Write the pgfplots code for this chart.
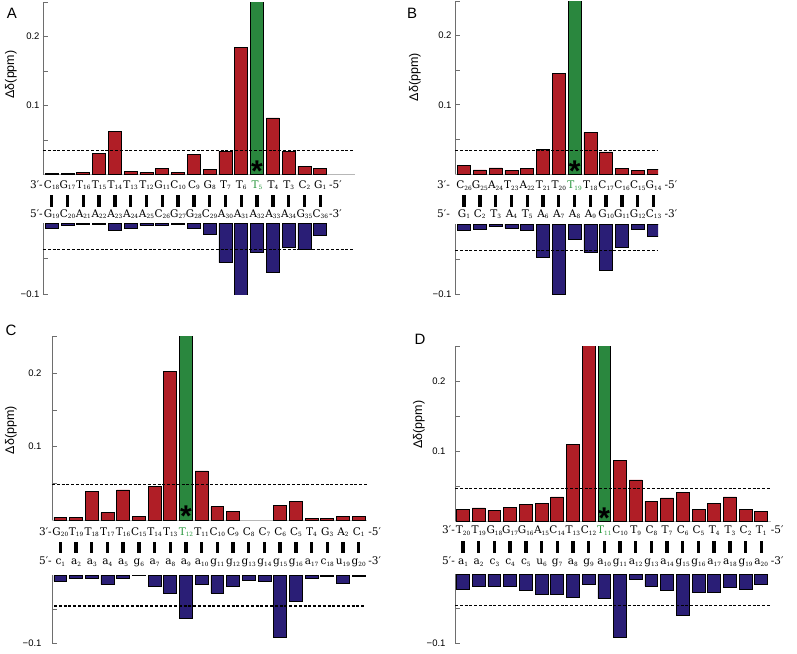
\documentclass[border=0pt]{standalone}
\usepackage{fontspec}
\setmainfont{Liberation Sans}
\newfontfamily\seqfont{DejaVu Serif}
\usepackage{pgfplots}
\pgfplotsset{compat=1.18}

\definecolor{barred}{RGB}{176,30,38}
\definecolor{bargreen}{RGB}{42,135,62}
\definecolor{barblue}{RGB}{42,30,118}
\definecolor{axgray}{RGB}{110,110,110}
\definecolor{labgreen}{RGB}{40,150,60}

% nucleotide with subscript index
\newcommand\nt[2]{#1{\fontsize{5.8}{6}\selectfont\raisebox{-1.8pt}{#2}}}
\newcommand\gn[2]{{\color{labgreen}#1{\fontsize{5.8}{6}\selectfont\raisebox{-1.8pt}{#2}}}}
% base-pair ticks between the strands
\newcommand\pairs[3]{\pgfplotsinvokeforeach{1,...,#1}{\fill ([xshift=-1.7pt,yshift=#2]axis cs:##1,0) rectangle ([xshift=1.7pt,yshift=#3]axis cs:##1,0);}}

\tikzset{seq/.style={font=\seqfont\fontsize{10.5}{12}\selectfont, inner sep=0pt},
  star/.style={font=\bfseries\fontsize{30}{30}\selectfont, inner sep=0pt, anchor=north},
  plab/.style={font=\fontsize{15}{15}\selectfont}}
% asterisk whose box is just the visible star
\newcommand\st{\raisebox{-12.6pt}[8.8pt][0pt]{*}}

\pgfplotsset{
  base/.style={scale only axis, clip mode=individual, axis y line*=left,
    y axis line style={axgray, line width=0.8pt}, ytick style={axgray, line width=0.8pt},
    tick align=inside, major tick length=5pt, xtick style={draw=none},
    yticklabel style={font=\fontsize{9.5}{10}\selectfont},
    xticklabel style={font=\seqfont\fontsize{10.5}{12}\selectfont, anchor=base, inner sep=0pt}},
  bars/.style={ybar, bar shift=0pt, bar width=0.82, draw=black, line width=0.7pt},
  thr/.style={black, dash pattern=on 3pt off 1.8pt, line width=1.3pt, mark=none},
  upper/.style={base, ymin=0, ymax=0.25, axis x line*=bottom,
    x axis line style={axgray!50, line width=0.6pt},
    ytick={0.05,0.1,0.15,0.2,0.25}, yticklabels={,0.1,,0.2,},
    xticklabel style={yshift=-#1},
    ylabel={Δδ(ppm)}, ylabel style={font=\fontsize{12.5}{13}\selectfont, anchor=center}},
  lower/.style={base, ymin=-0.1, ymax=0, axis x line*=top, x axis line style={draw=none},
    ytick={-0.1,-0.05}, yticklabels={−0.1,},
    xticklabel style={yshift=#1}},
}

\begin{document}
\begin{tikzpicture}
\path[use as bounding box] (0,0) rectangle (797pt,-653pt);

% ---------------- A ----------------
\node[plab] at (12pt,-13pt) {A};
\begin{axis}[upper=13.5pt, at={(43pt,-174.5pt)}, anchor=south west, width=312pt, height=172.5pt,
  ylabel style={at={([xshift=-32pt]axis description cs:0,0.58)}},
  xmin=0.45, xmax=20.2, xtick={1,...,18},
  xticklabels={\nt C{18},\nt G{17},\nt T{16},\nt T{15},\nt T{14},\nt T{13},\nt T{12},\nt G{11},\nt C{10},
    \nt C{9},\nt G{8},\nt T{7},\nt T{6},\gn T{5},\nt T{4},\nt T{3},\nt C{2},\nt G{1}}]
\addplot[bars, fill=barred] coordinates {(1,0.0015) (2,0.0015) (3,0.003) (4,0.030) (5,0.063) (6,0.005)
  (7,0.003) (8,0.009) (9,0.003) (10,0.029) (11,0.0075) (12,0.034) (13,0.184) (15,0.082) (16,0.034)
  (17,0.012) (18,0.0085)};
\addplot[bars, fill=bargreen] coordinates {(14,0.3)};
\addplot[thr] coordinates {(0.45,0.035) (20.2,0.035)};
\node[star] at (axis cs:14,0.021) {\st};
\node[seq, anchor=base east] at ([yshift=-13.5pt]axis cs:0.45,0) {3′-};
\node[seq, anchor=base west] at ([yshift=-13.5pt]axis cs:18.55,0) {-5′};
\end{axis}
\begin{axis}[lower=6.3pt, at={(43pt,-294.3pt)}, anchor=south west, width=312pt, height=71pt,
  xmin=0.45, xmax=20.2, xtick={1,...,18},
  xticklabels={\nt G{19},\nt C{20},\nt A{21},\nt A{22},\nt A{23},\nt A{24},\nt A{25},\nt C{26},\nt G{27},
    \nt G{28},\nt C{29},\nt A{30},\nt A{31},\nt A{32},\nt A{33},\nt A{34},\nt G{35},\nt C{36}}]
\addplot[bars, fill=barblue] coordinates {(1,-0.007) (2,-0.0025) (3,-0.001) (4,-0.001) (5,-0.0095)
  (6,-0.007) (7,-0.0025) (8,-0.003) (9,-0.0015) (10,-0.007) (11,-0.0155) (12,-0.0555) (13,-0.101)
  (14,-0.041) (15,-0.0686) (16,-0.034) (17,-0.036) (18,-0.017)};
\addplot[thr] coordinates {(0.45,-0.037) (20.2,-0.037)};
\pairs{18}{16.3pt}{28.3pt}
\node[seq, anchor=base east] at ([yshift=6.3pt]axis cs:0.45,0) {5′-};
\node[seq, anchor=base west] at ([yshift=6.3pt]axis cs:18.55,0) {-3′};
\end{axis}

% ---------------- B ----------------
\node[plab] at (412pt,-13pt) {B};
\begin{axis}[upper=14.3pt, at={(455pt,-174pt)}, anchor=south west, width=203pt, height=173pt,
  ylabel style={at={([xshift=-40pt]axis description cs:0,0.56)}},
  xmin=0.43, xmax=13.28, xtick={1,...,13},
  xticklabels={\nt C{26},\nt G{25},\nt A{24},\nt T{23},\nt A{22},\nt T{21},\nt T{20},\gn T{19},
    \nt T{18},\nt C{17},\nt C{16},\nt C{15},\nt G{14}}]
\addplot[bars, fill=barred] coordinates {(1,0.0126) (2,0.006) (3,0.0087) (4,0.0048) (5,0.0077)
  (6,0.036) (7,0.145) (9,0.060) (10,0.032) (11,0.0077) (12,0.0053) (13,0.0068)};
\addplot[bars, fill=bargreen] coordinates {(8,0.3)};
\addplot[thr] coordinates {(0.43,0.034) (13.28,0.034)};
\node[star] at (axis cs:8,0.021) {\st};
\node[seq, anchor=base east] at ([xshift=-5pt,yshift=-14.3pt]axis cs:0.43,0) {3′-};
\node[seq, anchor=base west] at ([xshift=3pt,yshift=-14.3pt]axis cs:13.5,0) {-5′};
\end{axis}
\begin{axis}[lower=7pt, at={(455pt,-294pt)}, anchor=south west, width=203pt, height=70pt,
  xmin=0.43, xmax=13.28, xtick={1,...,13},
  xticklabels={\nt G{1},\nt C{2},\nt T{3},\nt A{4},\nt T{5},\nt A{6},\nt A{7},\nt A{8},\nt A{9},
    \nt G{10},\nt G{11},\nt G{12},\nt C{13}}]
\addplot[bars, fill=barblue] coordinates {(1,-0.009) (2,-0.007) (3,-0.003) (4,-0.006) (5,-0.009)
  (6,-0.048) (7,-0.100) (8,-0.022) (9,-0.040) (10,-0.0657) (11,-0.0334) (12,-0.0076) (13,-0.017)};
\addplot[thr] coordinates {(0.43,-0.038) (13.28,-0.038)};
\pairs{13}{17.3pt}{29pt}
\node[seq, anchor=base east] at ([xshift=-5pt,yshift=7pt]axis cs:0.43,0) {5′-};
\node[seq, anchor=base west] at ([xshift=3pt,yshift=7pt]axis cs:13.5,0) {-3′};
\end{axis}

% ---------------- C ----------------
\node[plab] at (11pt,-330pt) {C};
\begin{axis}[upper=15pt, at={(52pt,-520pt)}, anchor=south west, width=315pt, height=183.5pt,
  ylabel style={at={([xshift=-41pt]axis description cs:0,0.49)}},
  yticklabel style={xshift=-7pt},
  xmin=0.47, xmax=20.53, xtick={1,...,20},
  xticklabels={\nt G{20},\nt T{19},\nt T{18},\nt T{17},\nt T{16},\nt C{15},\nt T{14},\nt T{13},\gn T{12},
    \nt T{11},\nt C{10},\nt C{9},\nt C{8},\nt C{7},\nt C{6},\nt C{5},\nt T{4},\nt G{3},\nt A{2},\nt C{1}}]
\addplot[bars, fill=barred] coordinates {(1,0.0037) (2,0.0037) (3,0.039) (4,0.010) (5,0.041) (6,0.0045)
  (7,0.046) (8,0.203) (10,0.0668) (11,0.018) (12,0.012) (15,0.020) (16,0.0255) (17,0.0023)
  (18,0.0018) (19,0.0045) (20,0.0045)};
\addplot[bars, fill=bargreen] coordinates {(9,0.3)};
\addplot[thr] coordinates {(0.47,0.048) (20.53,0.048)};
\node[star] at (axis cs:9,0.020) {\st};
\node[seq, anchor=base east] at ([yshift=-15pt]axis cs:0.47,0) {3′-};
\node[seq, anchor=base west] at ([yshift=-15pt]axis cs:20.6,0) {-5′};
\end{axis}
\begin{axis}[lower=11pt, at={(52pt,-643.3pt)}, anchor=south west, width=315pt, height=68pt,
  yticklabel style={xshift=-7pt},
  xmin=0.47, xmax=20.53, xtick={1,...,20},
  xticklabels={\nt c{1},\nt a{2},\nt a{3},\nt a{4},\nt a{5},\nt g{6},\nt a{7},\nt a{8},\nt a{9},\nt a{10},
    \nt g{11},\nt g{12},\nt g{13},\nt g{14},\nt g{15},\nt g{16},\nt a{17},\nt c{18},\nt u{19},\nt g{20}}]
\addplot[bars, fill=barblue] coordinates {(1,-0.0088) (2,-0.005) (3,-0.005) (4,-0.0132) (5,-0.004)
  (6,-0.0005) (7,-0.0157) (8,-0.027) (9,-0.0628) (10,-0.0128) (11,-0.026) (12,-0.0167) (13,-0.0079)
  (14,-0.0083) (15,-0.091) (16,-0.039) (17,-0.005) (18,-0.0015) (19,-0.0113) (20,-0.002)};
\addplot[thr] coordinates {(0.6,-0.045) (20.4,-0.045)};
\pairs{20}{22pt}{33.6pt}
\node[seq, anchor=base east] at ([yshift=11pt]axis cs:0.47,0) {5′-};
\node[seq, anchor=base west] at ([yshift=11pt]axis cs:20.6,0) {-3′};
\end{axis}

% ---------------- D ----------------
\node[plab] at (420pt,-339pt) {D};
\begin{axis}[upper=12.3pt, at={(455pt,-521pt)}, anchor=south west, width=316pt, height=175pt,
  ylabel style={at={([xshift=-36pt]axis description cs:0,0.55)}},
  yticklabel style={xshift=-6pt},
  xmin=0.49, xmax=20.62, xtick={1,...,20},
  xticklabels={\nt T{20},\nt T{19},\nt G{18},\nt G{17},\nt G{16},\nt A{15},\nt C{14},\nt T{13},\nt C{12},
    \gn T{11},\nt C{10},\nt T{9},\nt C{8},\nt T{7},\nt C{6},\nt C{5},\nt T{4},\nt T{3},\nt C{2},\nt T{1}}]
\addplot[bars, fill=barred] coordinates {(1,0.017) (2,0.0186) (3,0.0148) (4,0.020) (5,0.0233)
  (6,0.0257) (7,0.0343) (8,0.109) (9,0.3) (11,0.087) (12,0.0586) (13,0.028) (14,0.0329) (15,0.041)
  (16,0.017) (17,0.0257) (18,0.0343) (19,0.016) (20,0.0133)};
\addplot[bars, fill=bargreen] coordinates {(10,0.3)};
\addplot[thr] coordinates {(0.49,0.046) (20.62,0.046)};
\node[star] at (axis cs:10,0.020) {\st};
\node[seq, anchor=base east] at ([yshift=-12.3pt]axis cs:0.49,0) {3′-};
\node[seq, anchor=base west] at ([yshift=-12.3pt]axis cs:20.6,0) {-5′};
\end{axis}
\begin{axis}[lower=10pt, at={(455pt,-643.3pt)}, anchor=south west, width=316pt, height=69pt,
  yticklabel style={xshift=-6pt},
  xmin=0.49, xmax=20.62, xtick={1,...,20},
  xticklabels={\nt a{1},\nt a{2},\nt c{3},\nt c{4},\nt c{5},\nt u{6},\nt g{7},\nt a{8},\nt g{9},\nt a{10},
    \nt g{11},\nt a{12},\nt g{13},\nt a{14},\nt g{15},\nt g{16},\nt a{17},\nt a{18},\nt g{19},\nt a{20}}]
\addplot[bars, fill=barblue] coordinates {(1,-0.0213) (2,-0.018) (3,-0.017) (4,-0.018) (5,-0.0227)
  (6,-0.0285) (7,-0.0285) (8,-0.0338) (9,-0.015) (10,-0.0353) (11,-0.091) (12,-0.0077) (13,-0.017)
  (14,-0.0237) (15,-0.059) (16,-0.0266) (17,-0.0266) (18,-0.0184) (19,-0.0213) (20,-0.0145)};
\addplot[thr] coordinates {(0.49,-0.045) (20.62,-0.045)};
\pairs{20}{21pt}{33.3pt}
\node[seq, anchor=base east] at ([yshift=10pt]axis cs:0.49,0) {5′-};
\node[seq, anchor=base west] at ([yshift=10pt]axis cs:20.6,0) {-3′};
\end{axis}
\end{tikzpicture}
\end{document}
